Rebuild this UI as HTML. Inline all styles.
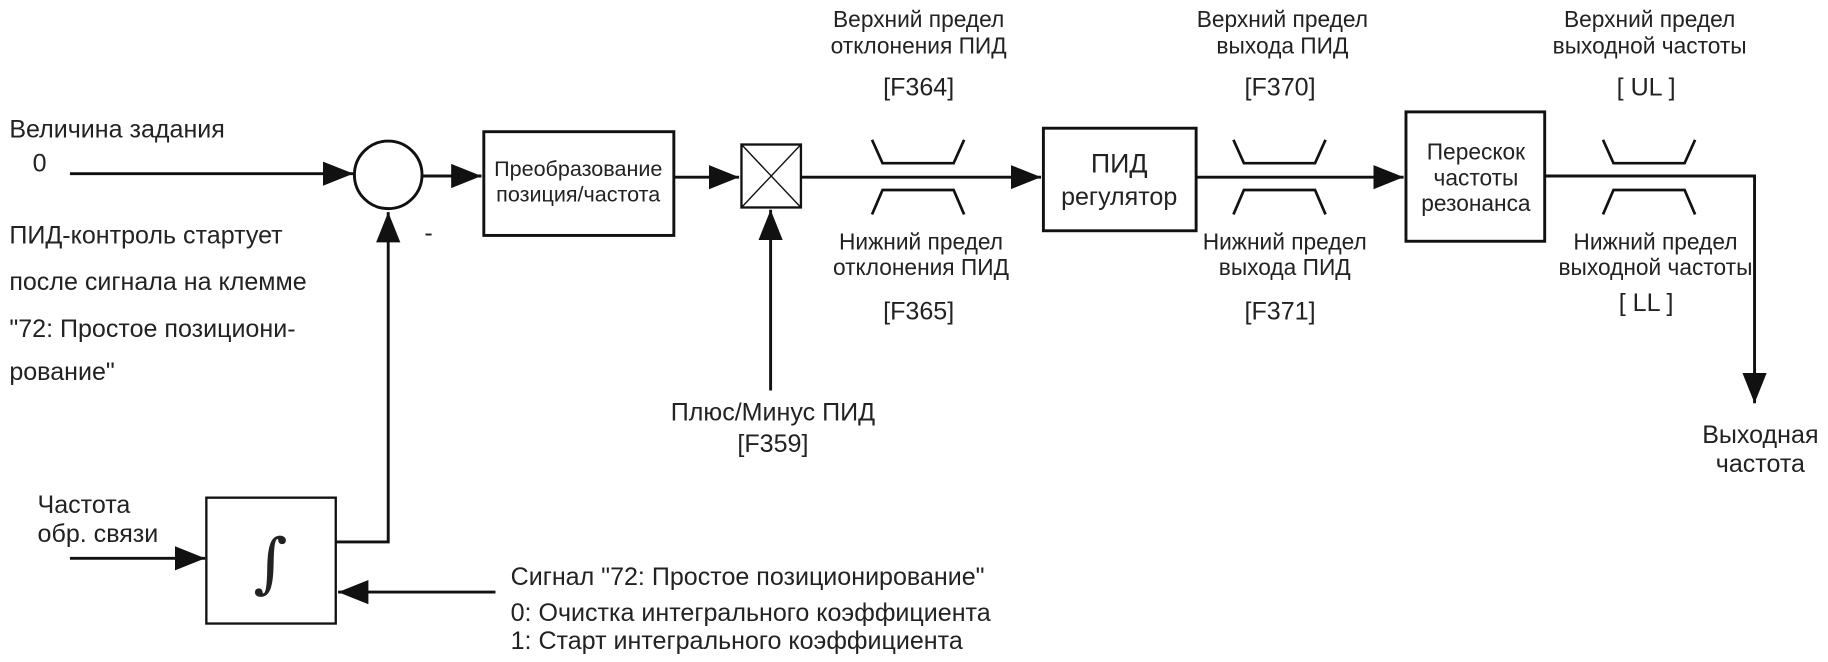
<!DOCTYPE html>
<html><head><meta charset="utf-8"><style>
html,body{margin:0;padding:0;background:#fff;}
svg{display:block;}
text{font-family:"Liberation Sans","Noto Sans CJK SC",sans-serif;fill:#222;font-size:21.5px;}
.c{text-anchor:middle;}
.s{font-size:19.5px;}
</style></head><body>
<svg width="1828" height="662" viewBox="0 0 1568 568" preserveAspectRatio="none">
<defs>
<marker id="b" viewBox="0 0 10 10" refX="10" refY="5" markerWidth="26" markerHeight="26" markerUnits="userSpaceOnUse" orient="auto"><path d="M0,1L10,5L0,9z" fill="#111"/></marker>
</defs>
<g stroke="#111" stroke-width="2.5" fill="none">
<line x1="60" y1="149" x2="303" y2="149" marker-end="url(#b)"/>
<ellipse cx="333" cy="150" rx="29" ry="29"/>
<line x1="362" y1="151" x2="413" y2="151" marker-end="url(#b)"/>
<rect x="415" y="113" width="163" height="89"/>
<line x1="578" y1="152" x2="634" y2="152" marker-end="url(#b)"/>
<rect x="636" y="124" width="51" height="54" stroke-width="2"/>
<line x1="636" y1="124" x2="687" y2="178" stroke-width="1.2"/>
<line x1="687" y1="124" x2="636" y2="178" stroke-width="1.2"/>
<line x1="687" y1="152" x2="893" y2="152" marker-end="url(#b)"/>
<line x1="661" y1="335" x2="661" y2="180" marker-end="url(#b)"/>
<rect x="895" y="110" width="131" height="88"/>
<line x1="1026" y1="152" x2="1204" y2="152" marker-end="url(#b)"/>
<rect x="1206" y="96" width="119" height="111"/>
<polyline points="1325,151 1505,151 1505,346" marker-end="url(#b)"/>
<rect x="177" y="427" width="111" height="108" stroke-width="2"/>
<polyline points="288,465 333,465 333,182" marker-end="url(#b)"/>
<line x1="60" y1="479" x2="176" y2="479" marker-end="url(#b)"/>
<line x1="425" y1="508" x2="290" y2="508" marker-end="url(#b)"/>
<g stroke-width="2.3">
<polyline points="748,120 757,140 818,140 827,120"/>
<polyline points="748,184 757,163 818,163 827,184"/>
<polyline points="1058,120 1067,140 1128,140 1137,120"/>
<polyline points="1058,184 1067,163 1128,163 1137,184"/>
<polyline points="1375,120 1384,140 1445,140 1454,120"/>
<polyline points="1375,184 1384,163 1445,163 1454,184"/>
</g>
</g>
<text x="8" y="118">Величина задания</text>
<text x="28" y="147">0</text>
<text x="8" y="209">ПИД-контроль стартует</text>
<text x="8" y="249">после сигнала на клемме</text>
<text x="8" y="289">"72: Простое позициони-</text>
<text x="8" y="326">рование"</text>
<text x="364" y="207">-</text>
<text class="c" x="496" y="151" style="font-size:18.5px">Преобразование</text>
<text class="c" x="496" y="173" style="font-size:18.5px">позиция/частота</text>
<text class="c" x="663" y="361">Плюс/Минус ПИД</text>
<text class="c" x="663" y="388">[F359]</text>
<text class="c s" x="788" y="23">Верхний предел</text>
<text class="c s" x="788" y="46">отклонения ПИД</text>
<text class="c" x="788" y="82">[F364]</text>
<text class="c s" x="790" y="214">Нижний предел</text>
<text class="c s" x="790" y="236">отклонения ПИД</text>
<text class="c" x="788" y="274">[F365]</text>
<text class="c" x="960" y="148" style="font-size:23px">ПИД</text>
<text class="c" x="960" y="176">регулятор</text>
<text class="c s" x="1100" y="23">Верхний предел</text>
<text class="c s" x="1100" y="46">выхода ПИД</text>
<text class="c" x="1098" y="82">[F370]</text>
<text class="c s" x="1102" y="214">Нижний предел</text>
<text class="c s" x="1102" y="236">выхода ПИД</text>
<text class="c" x="1098" y="274">[F371]</text>
<text class="c s" x="1266" y="137">Перескок</text>
<text class="c s" x="1266" y="159">частоты</text>
<text class="c s" x="1266" y="181">резонанса</text>
<text class="c s" x="1415" y="23">Верхний предел</text>
<text class="c s" x="1415" y="46">выходной частоты</text>
<text class="c" x="1412" y="82">[ UL ]</text>
<text class="c s" x="1420" y="214">Нижний предел</text>
<text class="c s" x="1420" y="236">выходной частоты</text>
<text class="c" x="1412" y="267">[ LL ]</text>
<text class="c" x="1510" y="380">Выходная</text>
<text class="c" x="1510" y="405">частота</text>
<text class="c" x="72" y="440">Частота</text>
<text class="c" x="84" y="465">обр. связи</text>
<text class="c" x="232" y="502" style="font-size:56px;font-family:'DejaVu Serif',serif">∫</text>
<text x="438" y="502">Сигнал "72: Простое позиционирование"</text>
<text x="438" y="533">0: Очистка интегрального коэффициента</text>
<text x="438" y="557">1: Старт интегрального коэффициента</text>
</svg>
</body></html>
